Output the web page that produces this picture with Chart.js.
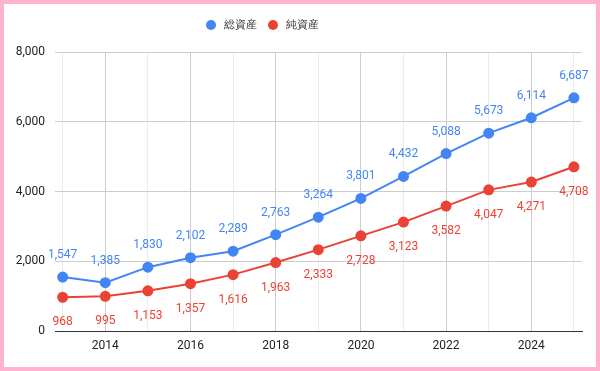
<!DOCTYPE html>
<html>
<head>
<meta charset="utf-8">
<script src="https://cdn.jsdelivr.net/npm/chart.js@4"></script>
<style>
  html, body { margin: 0; padding: 0; background: #fff; }
  #wrap { width: 600px; height: 371px; box-sizing: border-box; border: 4px solid #ffb3ce; }
</style>
</head>
<body>
<div id="wrap"><canvas id="assetChart"></canvas></div>
<script>
// データ
const years = [2013, 2014, 2015, 2016, 2017, 2018, 2019, 2020, 2021, 2022, 2023, 2024, 2025];
const totalAssets = [1547, 1385, 1830, 2102, 2289, 2763, 3264, 3801, 4432, 5088, 5673, 6114, 6687];
const netAssets = [968, 995, 1153, 1357, 1616, 1963, 2333, 2728, 3123, 3582, 4047, 4271, 4708];
const seriesNames = ['総資産', '純資産'];
const yTicks = [0, 2000, 4000, 6000, 8000];

const BLUE = '#4285f4';
const RED = '#ea4335';
const FONT = 'Roboto, Arial, sans-serif';

// 値ラベル (青は上、赤は下)
const valueLabels = {
    id: 'valueLabels',
    afterDatasetsDraw(chart) {
        const ctx = chart.ctx;
        ctx.save();
        ctx.font = '12px ' + FONT;
        ctx.textAlign = 'center';
        ctx.textBaseline = 'middle';
        chart.data.datasets.forEach((ds, i) => {
            const meta = chart.getDatasetMeta(i);
            const off = i === 0 ? -22 : 25;
            ctx.fillStyle = ds.borderColor;
            meta.data.forEach((pt, j) => {
                ctx.fillText(ds.data[j].y.toLocaleString('en-US'), pt.x, pt.y + off);
            });
        });
        ctx.restore();
    }
};

// 凡例 (手描き)
const topLegend = {
    id: 'topLegend',
    afterDraw(chart) {
        const ctx = chart.ctx;
        ctx.save();
        ctx.font = '11px ' + FONT;
        ctx.textBaseline = 'middle';
        let x = 202;
        const y = 21;
        chart.data.datasets.forEach(ds => {
            ctx.fillStyle = ds.borderColor;
            ctx.beginPath();
            ctx.arc(x + 5, y, 5, 0, Math.PI * 2);
            ctx.fill();
            x += 18;
            ctx.fillStyle = '#333';
            ctx.fillText(ds.label, x, y);
            x += ctx.measureText(ds.label).width + 11;
        });
        ctx.restore();
    }
};

const toPoints = arr => arr.map((v, i) => ({ x: years[i], y: v }));

new Chart(document.getElementById('assetChart').getContext('2d'), {
    type: 'line',
    data: {
        datasets: [
            { label: seriesNames[0], data: toPoints(totalAssets), borderColor: BLUE, backgroundColor: BLUE, borderWidth: 2, pointRadius: 4.5, pointHoverRadius: 4.5 },
            { label: seriesNames[1], data: toPoints(netAssets), borderColor: RED, backgroundColor: RED, borderWidth: 2, pointRadius: 4.5, pointHoverRadius: 4.5 }
        ]
    },
    options: {
        responsive: true,
        maintainAspectRatio: false,
        animation: false,
        layout: { padding: { top: 48, right: 14, left: 0, bottom: 0 } },
        plugins: {
            legend: { display: false },
            tooltip: { enabled: false }
        },
        scales: {
            x: {
                type: 'linear',
                min: 2012.82,
                max: 2025.19,
                afterBuildTicks: s => { s.ticks = years.map(v => ({ value: v })); },
                afterFit: s => { s.height = 36; },
                border: { display: true, color: '#333', width: 1 },
                grid: {
                    drawTicks: false,
                    color: c => (c.tick && c.tick.value % 2 === 0) ? '#cccccc' : '#ececec'
                },
                ticks: {
                    padding: 8,
                    color: '#222',
                    font: { family: FONT, size: 12 },
                    autoSkip: false,
                    maxRotation: 0,
                    callback: v => (v % 2 === 0 ? String(v) : '')
                }
            },
            y: {
                min: 0,
                max: 8000,
                afterBuildTicks: s => { s.ticks = yTicks.map(v => ({ value: v })); },
                afterFit: s => { s.width = 51; },
                border: { display: false },
                grid: { drawTicks: false, color: '#cccccc' },
                ticks: {
                    padding: 10,
                    color: '#222',
                    font: { family: FONT, size: 12 },
                    callback: v => v.toLocaleString('en-US')
                }
            }
        }
    },
    plugins: [valueLabels, topLegend]
});
</script>
</body>
</html>
